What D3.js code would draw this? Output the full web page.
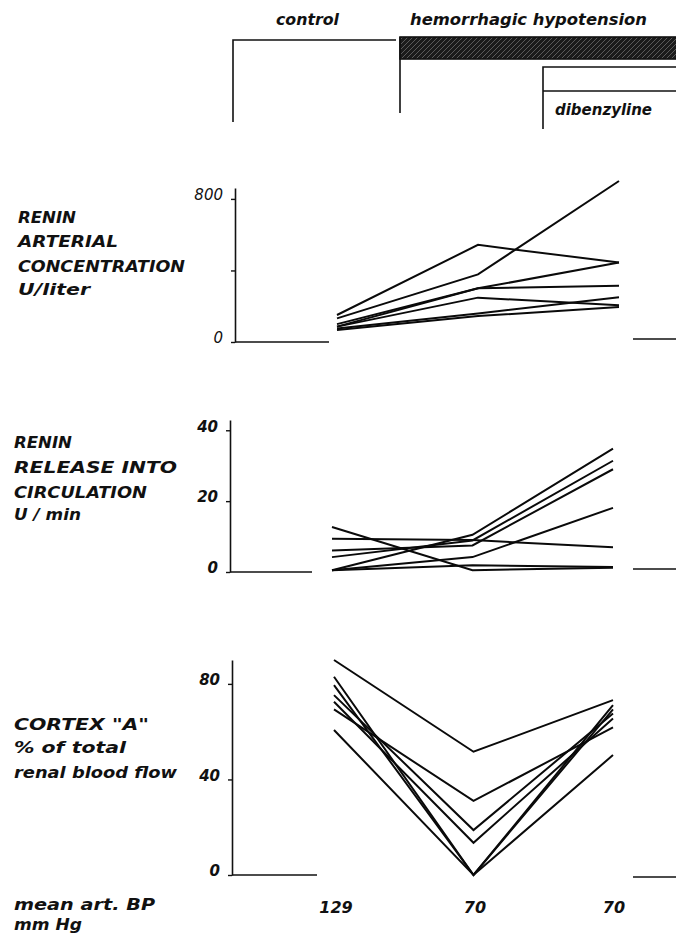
<!DOCTYPE html>
<html>
<head>
<meta charset="utf-8">
<script src="https://cdn.jsdelivr.net/npm/d3@7"></script>
<style>
  body{margin:0;background:#fff}
  svg{display:block}
</style>
</head>
<body>
<div class="chart"></div>
<script>
// experimental periods (x positions) and mean arterial BP under each
const conditions = ["control", "hypotension", "dibenzyline"]
const bpLabels = ["129", "70", "70"]

// renin arterial concentration, U/liter (one row per animal)
const reninConc = [
  [151, 543, 444],
  [132, 378, 900],
  [100, 300, 444],
  [86, 300, 315],
  [86, 248, 205],
  [75, 160, 250],
  [67, 145, 195]
]
// renin release into circulation, U/min
const reninRelease = [
  [12.7, 0.5, 1.2],
  [9.4, 9.0, 7.0],
  [4.2, 8.9, 31.4],
  [6.1, 7.5, 29.0],
  [0.5, 10.5, 34.8],
  [0.5, 4.2, 18.1],
  [0.5, 1.9, 1.4]
]
// cortex "A", % of total renal blood flow
const cortexA = [
  [90, 51.6, 73.2],
  [69.3, 31, 61.8],
  [75.3, 18.8, 67.6],
  [72.5, 13.5, 65.5],
  [83, 0, 71.1],
  [79.5, 0, 69.3],
  [60.7, 0, 50.2]
]

const concTicks = [0, 400, 800]
const concLabels = ["0", "", "800"]
const releaseTicks = [0, 20, 40]
const cortexTicks = [0, 40, 80]

const W = 676, H = 935
const font = "'DejaVu Sans', sans-serif"

const svg = d3.select(".chart").append("svg")
  .attr("width", W).attr("height", H)
  .style("font-family", font)

// hatch pattern for hemorrhage bar
const defs = svg.append("defs")
const pat = defs.append("pattern")
  .attr("id", "hatch").attr("patternUnits", "userSpaceOnUse")
  .attr("width", 5).attr("height", 5)
pat.append("rect").attr("width", 5).attr("height", 5).attr("fill", "#1b1b1b")
pat.append("path").attr("d", "M0,5 L5,0").attr("stroke", "#6a6a6a").attr("stroke-width", 0.8)

// ---- header brackets
const head = svg.append("g").attr("stroke", "#111").attr("fill", "none").attr("stroke-width", 1.6)
head.append("path").attr("d", "M233,122 V40 H396")
head.append("rect").attr("x", 400).attr("y", 37).attr("width", 280).attr("height", 22)
  .attr("fill", "url(#hatch)").attr("stroke", "#111")
head.append("path").attr("d", "M400,37 V113")
head.append("path").attr("d", "M543,129 V67 H680")
head.append("path").attr("d", "M543,91 H680")

function label(x, y, txt, len, opts = {}) {
  const t = svg.append("text")
    .attr("x", x).attr("y", y)
    .attr("font-size", opts.size || 15)
    .attr("font-weight", opts.weight || "bold")
    .attr("font-style", "italic")
    .attr("fill", "#111")
    .text(txt)
  if (len) t.attr("textLength", len).attr("lengthAdjust", "spacingAndGlyphs")
  return t
}

label(276, 25, "control", 63, {size: 15})
label(410, 25, "hemorrhagic  hypotension", 237, {size: 15})
label(555, 115, "dibenzyline", 97, {size: 15})

// ---- panels
const panels = [
  {
    data: reninConc, ticks: concTicks, fmt: (d, i) => concLabels[i], top: 861,
    y0: 342, y1: 188, axisX: 235, xRange: [337, 619], baseEnd: 329, rightY: 339,
    tickWeight: "normal",
    lines: [["RENIN", 58, 223], ["ARTERIAL", 100, 247], ["CONCENTRATION", 167, 272], ["U/liter", 72, 295]],
    lx: 18
  },
  {
    data: reninRelease, ticks: releaseTicks, fmt: d => d, top: 42.9,
    y0: 572, y1: 420, axisX: 230, xRange: [332, 613], baseEnd: 312, rightY: 569,
    tickWeight: "bold",
    lines: [["RENIN", 58, 448], ["RELEASE  INTO", 163, 473], ["CIRCULATION", 133, 498], ["U / min", 67, 520]],
    lx: 14
  },
  {
    data: cortexA, ticks: cortexTicks, fmt: d => d, top: 90,
    y0: 875, y1: 660, axisX: 232, xRange: [334, 613], baseEnd: 317, rightY: 877,
    tickWeight: "bold",
    lines: [["CORTEX  \"A\"", 135, 730], ["% of  total", 112, 753], ["renal  blood  flow", 163, 778]],
    lx: 14
  }
]

panels.forEach(p => {
  const x = d3.scalePoint().domain(conditions).range(p.xRange)
  const y = d3.scaleLinear().domain([0, p.top]).range([p.y0, p.y1])

  const axis = d3.axisLeft(y)
    .tickValues(p.ticks)
    .tickFormat(p.fmt)
    .tickSizeInner(4)
    .tickSizeOuter(0)
    .tickPadding(8)

  const g = svg.append("g")
    .attr("transform", `translate(${p.axisX},0)`)
    .call(axis)
  g.select(".domain").attr("stroke", "#111").attr("stroke-width", 1.6)
  g.selectAll(".tick line").attr("stroke", "#111").attr("stroke-width", 1.4)
  g.selectAll(".tick text")
    .attr("font-family", font)
    .attr("font-size", 15)
    .attr("font-style", "italic")
    .attr("font-weight", p.tickWeight)
    .attr("fill", "#111")
    .attr("dy", "0.05em")

  // broken baseline at zero
  svg.append("line")
    .attr("x1", p.axisX).attr("x2", p.baseEnd)
    .attr("y1", y(0)).attr("y2", y(0))
    .attr("stroke", "#111").attr("stroke-width", 1.6)
  svg.append("line")
    .attr("x1", 633).attr("x2", W)
    .attr("y1", p.rightY).attr("y2", p.rightY)
    .attr("stroke", "#111").attr("stroke-width", 1.6)

  const line = d3.line()
    .x((d, i) => x(conditions[i]))
    .y(d => y(d))

  svg.append("g").selectAll("path")
    .data(p.data)
    .enter()
    .append("path")
    .attr("d", line)
    .attr("fill", "none")
    .attr("stroke", "#0a0a0a")
    .attr("stroke-width", 2)
    .attr("stroke-linejoin", "miter")

  p.lines.forEach(([t, len, yy]) => label(p.lx, yy, t, len, {size: 15}))
})

// ---- bottom: mean arterial BP
const xb = d3.scalePoint().domain(conditions).range([336, 614])
svg.append("g").selectAll("text")
  .data(bpLabels)
  .enter()
  .append("text")
  .attr("x", (d, i) => xb(conditions[i]))
  .attr("y", 913)
  .attr("text-anchor", "middle")
  .attr("font-size", 16)
  .attr("font-weight", "bold")
  .attr("font-style", "italic")
  .attr("fill", "#111")
  .text(d => d)

label(14, 910, "mean  art.  BP", 141, {size: 15})
label(14, 930, "mm  Hg", 68, {size: 15})
</script>
</body>
</html>
